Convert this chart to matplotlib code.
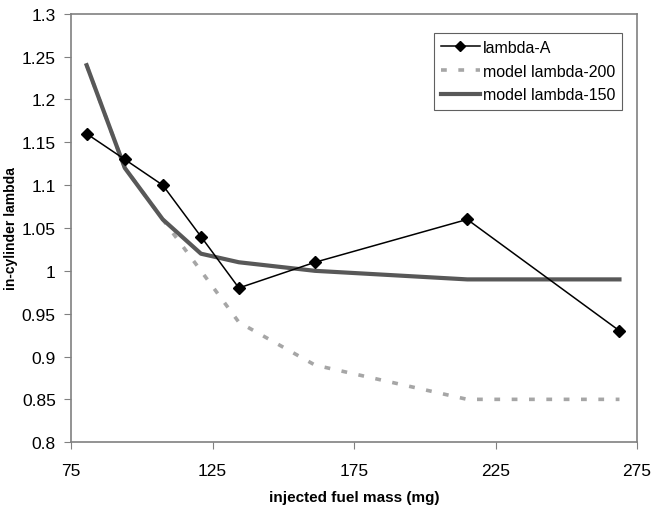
import numpy as np
import matplotlib
matplotlib.use("Agg")
import matplotlib.pyplot as plt
from matplotlib.ticker import FuncFormatter

plt.rcParams['font.family'] = ['Liberation Sans', 'DejaVu Sans']

fuel_mass = [80.5, 94, 107.4, 120.9, 134.3, 161.2, 215, 268.8]
lambda_a = [1.16, 1.13, 1.10, 1.04, 0.98, 1.01, 1.06, 0.93]
model_200 = [1.24, 1.12, 1.06, 1.00, 0.94, 0.89, 0.85, 0.85]
model_150 = [1.24, 1.12, 1.06, 1.02, 1.01, 1.00, 0.99, 0.99]

fig = plt.figure(figsize=(6.52, 5.10), dpi=100)
ax = fig.add_axes([0.109, 0.131, 0.868, 0.840])

ax.plot(fuel_mass, model_200, color='#a6a6a6', lw=2.6, ls=(0, (1.6, 3.2)),
        label='model lambda-200', zorder=2)
ax.plot(fuel_mass, model_150, color='#585858', lw=3, label='model lambda-150', zorder=3)
ax.plot(fuel_mass, lambda_a, color='black', lw=1.1, marker='D', ms=6,
        label='lambda-A', zorder=4)

ax.set_xlim(75, 275)
ax.set_ylim(0.8, 1.3)
ax.set_xticks(np.arange(75, 276, 50))
ax.set_yticks(np.arange(0.8, 1.301, 0.05))
ax.yaxis.set_major_formatter(FuncFormatter(lambda v, p: '%g' % round(v, 2)))

for s in ax.spines.values():
    s.set_color('#808080')
    s.set_linewidth(1.2)
ax.tick_params(direction='out', length=5, color='#808080', labelsize=12.5, pad=6)
ax.tick_params(axis='x', pad=10)

ax.set_xlabel('injected fuel mass (mg)', fontsize=11, fontweight='bold')
ax.set_ylabel('in-cylinder lambda', fontsize=10, fontweight='bold')
ax.xaxis.set_label_coords(0.5, -0.112)
ax.yaxis.set_label_coords(-0.094, 0.5)

h, l = ax.get_legend_handles_labels()
order = [2, 0, 1]
leg = ax.legend([h[i] for i in order], [l[i] for i in order], loc='upper right',
                bbox_to_anchor=(0.974, 0.956), borderaxespad=0, fontsize=11.5,
                fancybox=False, edgecolor='#606060', framealpha=1,
                handlelength=2.4, handletextpad=0.2, borderpad=0.45,
                labelspacing=0.55, markerscale=0.8)
leg.get_frame().set_linewidth(0.8)

fig.savefig('out.png', dpi=100)
